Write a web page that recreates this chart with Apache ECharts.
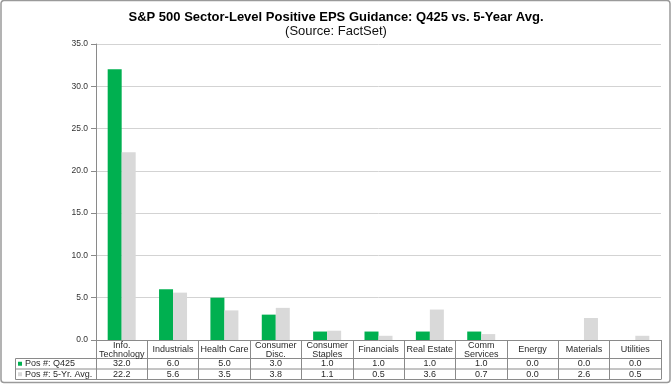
<!DOCTYPE html>
<html><head><meta charset="utf-8">
<script src="https://cdn.jsdelivr.net/npm/echarts@6/dist/echarts.min.js"></script>
<style>html,body{margin:0;padding:0;background:#fff}#c{width:672px;height:384px}</style>
</head><body><div id="c"></div>
<script>
const categories = ['Info.\nTechnology','Industrials','Health Care','Consumer\nDisc.','Consumer\nStaples','Financials','Real Estate','Comm\nServices','Energy','Materials','Utilities'];
const q425 = [32.0, 6.0, 5.0, 3.0, 1.0, 1.0, 1.0, 1.0, 0.0, 0.0, 0.0];
const avg5 = [22.2, 5.6, 3.5, 3.8, 1.1, 0.5, 3.6, 0.7, 0.0, 2.6, 0.5];
const seriesNames = ['Pos #: Q425', 'Pos #: 5-Yr. Avg.'];
const yTicks = {min: 0, max: 35, interval: 5};

const FONT = 'Liberation Sans, Arial, sans-serif';
const TXT = '#2a2a2a';
const LINE = '#8a8a8a';
const chart = echarts.init(document.getElementById('c'), null, {renderer: 'canvas'});
const gl = {left: 96, right: 11, top: 44, bottom: 44};
const tl = 15.5, tr = 672 - gl.right;
function hline(y){ return {type:'line', shape:{x1:tl, y1:y, x2:tr, y2:y}, style:{stroke:LINE, lineWidth:1}, silent:true}; }
const valueAxis = (idx, arr, margin) => ({
  type: 'category', gridIndex: 0, position: 'bottom', data: categories,
  axisLine: {show: false}, axisTick: {show: false}, splitLine: {show: false},
  axisLabel: {interval: 0, margin: margin, verticalAlign: 'middle', fontSize: 9, fontFamily: FONT, color: TXT,
    formatter: (v, i) => arr[i].toFixed(1)}
});
chart.setOption({
  animation: false,
  backgroundColor: '#fff',
  title: {
    text: 'S&P 500 Sector-Level Positive EPS Guidance: Q425 vs. 5-Year Avg.',
    subtext: '(Source: FactSet)',
    left: 'center', top: 6, itemGap: 1,
    textStyle: {fontSize: 13, fontWeight: 'bold', fontFamily: FONT, color: '#000'},
    subtextStyle: {fontSize: 13, fontFamily: FONT, color: '#111'}
  },
  legend: {
    orient: 'vertical', left: 18, top: 358.5, padding: 0, itemGap: 0,
    itemWidth: 4, itemHeight: 4, icon: 'rect',
    textStyle: {fontSize: 9, fontFamily: FONT, color: TXT, lineHeight: 10.5, padding: [0,0,0,-2]},
    data: seriesNames
  },
  grid: gl,
  xAxis: [
    {
      type: 'category', data: categories, position: 'bottom',
      axisLine: {show: true, lineStyle: {color: LINE, width: 1}},
      axisTick: {show: true, interval: 0, length: 39.5, lineStyle: {color: LINE, width: 1}},
      axisLabel: {interval: 0, margin: 9.6, verticalAlign: 'middle', fontSize: 9, lineHeight: 9, fontFamily: FONT, color: TXT}
    },
    valueAxis(1, q425, 23.8),
    valueAxis(2, avg5, 34.3)
  ],
  yAxis: {
    type: 'value', min: yTicks.min, max: yTicks.max, interval: yTicks.interval,
    axisLine: {show: true, lineStyle: {color: LINE}},
    axisTick: {show: true, length: 5, lineStyle: {color: LINE}},
    splitLine: {show: true, lineStyle: {color: '#d3d3d3', width: 1}},
    axisLabel: {fontSize: 8.5, fontFamily: FONT, color: '#333', margin: 8, formatter: v => v.toFixed(1)}
  },
  series: [
    {name: seriesNames[0], type: 'bar', data: q425, barWidth: 14, barGap: '0%', itemStyle: {color: '#00B050'}},
    {name: seriesNames[1], type: 'bar', data: avg5, barWidth: 14, barGap: '0%', itemStyle: {color: '#D9D9D9'}}
  ],
  graphic: [
    {type: 'rect', shape: {x: 1, y: 0.5, width: 669, height: 382, r: 3}, style: {fill: 'none', stroke: '#9a9a9a', lineWidth: 1.5}, silent: true},
    hline(358.5), hline(369), hline(379.5),
    {type: 'line', shape: {x1: tl, y1: 358.5, x2: tl, y2: 379.5}, style: {stroke: LINE, lineWidth: 1}, silent: true}
  ]
});
</script></body></html>
